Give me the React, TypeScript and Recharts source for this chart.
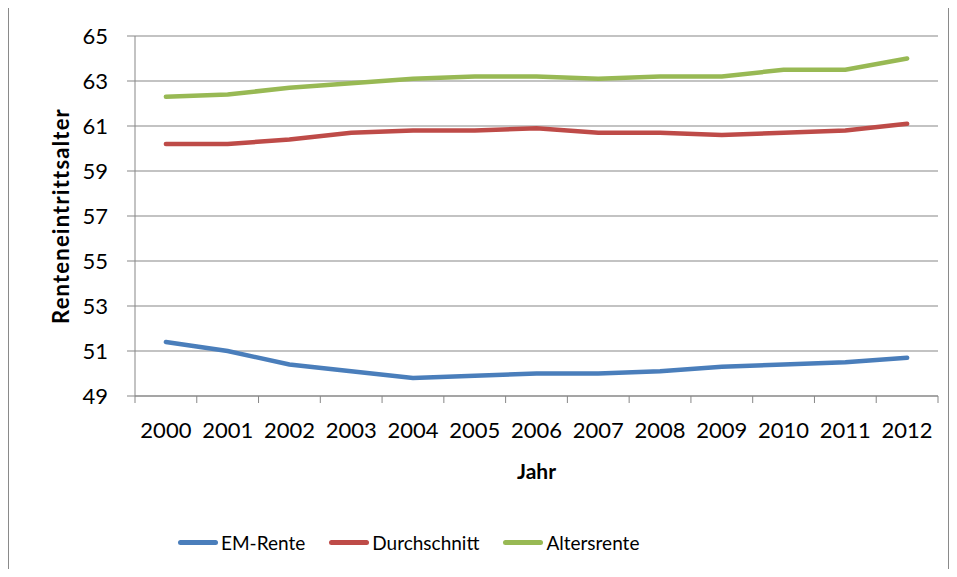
import React from "react";
import {
    LineChart,
    Line,
    XAxis,
    YAxis,
    CartesianGrid,
    Legend,
} from "recharts";

const YEARS = [
    "2000", "2001", "2002", "2003", "2004", "2005", "2006",
    "2007", "2008", "2009", "2010", "2011", "2012",
];
const EM_RENTE = [51.4, 51.0, 50.4, 50.1, 49.8, 49.9, 50.0, 50.0, 50.1, 50.3, 50.4, 50.5, 50.7];
const DURCHSCHNITT = [60.2, 60.2, 60.4, 60.7, 60.8, 60.8, 60.9, 60.7, 60.7, 60.6, 60.7, 60.8, 61.1];
const ALTERSRENTE = [62.3, 62.4, 62.7, 62.9, 63.1, 63.2, 63.2, 63.1, 63.2, 63.2, 63.5, 63.5, 64.0];
const Y_TICKS = [49, 51, 53, 55, 57, 59, 61, 63, 65];

const SERIES = [
    { key: "em", name: "EM-Rente", color: "#4A7EBB" },
    { key: "avg", name: "Durchschnitt", color: "#BE4B48" },
    { key: "alt", name: "Altersrente", color: "#98B954" },
];

const FONT = "Lato, 'Open Sans', sans-serif";
const GRID = "#878787";

const data = YEARS.map((year, i) => ({
    year,
    em: EM_RENTE[i],
    avg: DURCHSCHNITT[i],
    alt: ALTERSRENTE[i],
}));

// tick marks sit between the categories, like Excel does it
const YearTick = (props: any) => {
    const { x, y, payload, index } = props;
    const off = payload?.offset ?? 0;
    return (
        <g>
            <line x1={x - off} y1={y} x2={x - off} y2={y + 7} stroke={GRID} />
            {index === YEARS.length - 1 && (
                <line x1={x + off} y1={y} x2={x + off} y2={y + 7} stroke={GRID} />
            )}
            <text x={x} y={y + 42} textAnchor="middle" fontSize={22} fill="#000" fontFamily={FONT}>
                {payload.value}
            </text>
        </g>
    );
};

const YLabel = (props: any) => {
    const vb = props.viewBox || {};
    const cx = (vb.x ?? 0) + 60;
    const cy = (vb.y ?? 0) + (vb.height ?? 0) / 2;
    return (
        <text
            x={cx}
            y={cy}
            transform={`rotate(-90 ${cx} ${cy})`}
            textAnchor="middle"
            dominantBaseline="central"
            fontSize={22}
            letterSpacing={1.2}
            fontWeight="bold"
            fill="#000"
            fontFamily={FONT}
        >
            Renteneintrittsalter
        </text>
    );
};

const LegendContent = () => (
    <div style={{ display: "flex", alignItems: "center", height: 40, paddingLeft: 178, fontFamily: FONT, fontSize: 19 }}>
        {SERIES.map((s) => (
            <div key={s.key} style={{ display: "flex", alignItems: "center", marginRight: 24 }}>
                <div style={{ width: 40, height: 5, borderRadius: 3, background: s.color, marginRight: 3 }} />
                <span>{s.name}</span>
            </div>
        ))}
    </div>
);

export default function App() {
    return (
        <div style={{ position: "relative", width: 957, height: 577, margin: -8, background: "#fff" }}>
            <div
                style={{
                    position: "absolute",
                    left: 8,
                    top: 7,
                    width: 939,
                    height: 567,
                    border: "1px solid #8a8a8a",
                }}
            />
            <div style={{ position: "absolute", left: 0, top: 0 }}>
                <LineChart
                    width={957}
                    height={577}
                    data={data}
                    margin={{ top: 36, right: 19, bottom: 15, left: 0 }}
                >
                    <CartesianGrid vertical={false} stroke={GRID} strokeWidth={1} />
                    <XAxis
                        dataKey="year"
                        scale="band"
                        height={126}
                        stroke={GRID}
                        tickLine={false}
                        tickSize={0}
                        tickMargin={0}
                        interval={0}
                        tick={<YearTick />}
                        label={{
                            value: "Jahr",
                            position: "insideBottom",
                            offset: 43,
                            fontSize: 21,
                            fontWeight: "bold",
                            fill: "#000",
                            fontFamily: FONT,
                        }}
                    />
                    <YAxis
                        width={135}
                        domain={[49, 65]}
                        ticks={Y_TICKS}
                        interval={0}
                        stroke={GRID}
                        tickSize={8}
                        tickMargin={19}
                        tick={{ fontSize: 22, fill: "#000", fontFamily: FONT }}
                        label={<YLabel />}
                    />
                    <Legend verticalAlign="bottom" content={<LegendContent />} wrapperStyle={{ height: 40 }} />
                    {SERIES.map((s) => (
                        <Line
                            key={s.key}
                            type="linear"
                            dataKey={s.key}
                            name={s.name}
                            stroke={s.color}
                            strokeWidth={4.5}
                            dot={false}
                            strokeLinecap="round"
                            isAnimationActive={false}
                        />
                    ))}
                </LineChart>
            </div>
        </div>
    );
}
